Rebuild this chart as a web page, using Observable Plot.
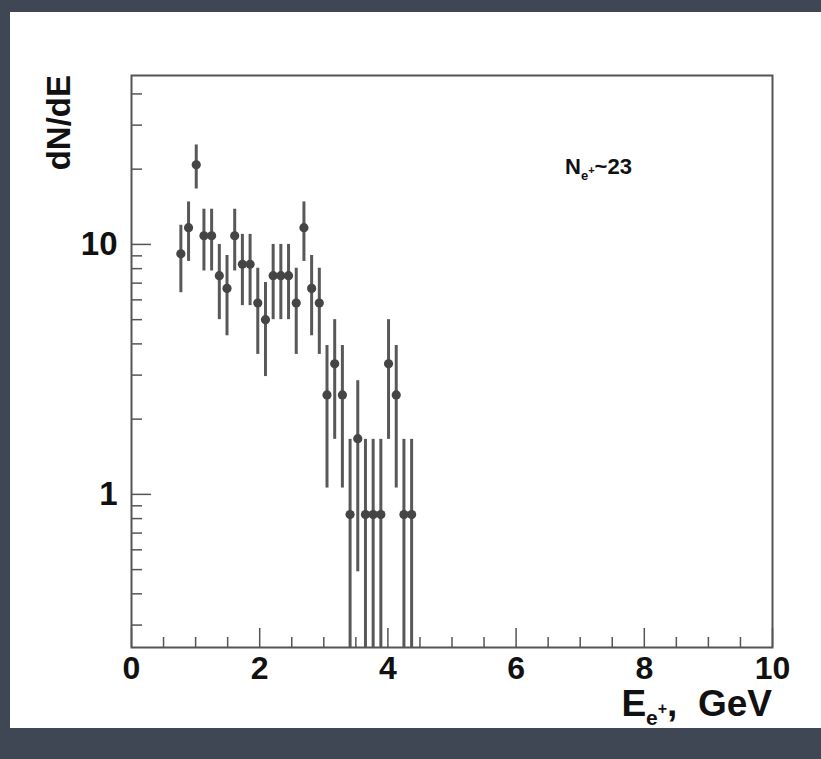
<!DOCTYPE html>
<html><head><meta charset="utf-8">
<script src="https://cdn.jsdelivr.net/npm/d3@7"></script>
<script src="https://cdn.jsdelivr.net/npm/@observablehq/plot@0.6"></script>
<style>
html,body{margin:0;padding:0;}
body{width:821px;height:759px;background:#3f4755;position:relative;overflow:hidden;font-family:"Liberation Sans",Arial,sans-serif;}
#panel{position:absolute;left:10px;top:12px;width:811px;height:716px;background:#fff;}
#chart{position:absolute;left:0;top:0;}
</style></head><body><div id="panel"></div><div id="chart"></div>
<script>
// Positron energy bins (GeV, bin centres)
const energy = [0.77, 0.89, 1.01, 1.13, 1.25, 1.37, 1.49, 1.61, 1.73, 1.85, 1.97, 2.09, 2.21, 2.33, 2.45, 2.57,
                2.69, 2.81, 2.93, 3.05, 3.17, 3.29, 3.41, 3.53, 3.65, 3.77, 3.89, 4.01, 4.13, 4.25, 4.37];
// dN/dE values
const dNdE = [9.17, 11.67, 20.83, 10.83, 10.83, 7.50, 6.67, 10.83, 8.33, 8.33, 5.83, 5.00, 7.50, 7.50, 7.50, 5.83,
              11.67, 6.67, 5.83, 2.50, 3.33, 2.50, 0.83, 1.67, 0.83, 0.83, 0.83, 3.33, 2.50, 0.83, 0.83];
// symmetric errors
const errors = [2.76, 3.12, 4.17, 3.00, 3.00, 2.50, 2.36, 3.00, 2.64, 2.64, 2.20, 2.04, 2.50, 2.50, 2.50, 2.20,
                3.12, 2.36, 2.20, 1.44, 1.67, 1.44, 0.83, 1.18, 0.83, 0.83, 0.83, 1.67, 1.44, 0.83, 0.83];
const yMajorTicks = [1, 10];
const yMinorTicks = [0.3, 0.4, 0.5, 0.6, 0.7, 0.8, 0.9, 2, 3, 4, 5, 6, 7, 8, 9, 20, 30, 40];
const xMajorTicks = [0, 2, 4, 6, 8, 10];
const xMinorTicks = [0.5, 1, 1.5, 2.5, 3, 3.5, 4.5, 5, 5.5, 6.5, 7, 7.5, 8.5, 9, 9.5];
const yRange = [0.244, 47.4];
const xRange = [0, 10];
const annotationValue = "~23";

const W = 821, H = 759, mL = 131, mR = 49, mT = 75, mB = 112;
const innerW = W - mL - mR, innerH = H - mT - mB;
const rows = energy.map((e, i) => ({e, v: dNdE[i], err: errors[i]}));
const axisColor = "#555";
const font = "Liberation Sans, Arial, sans-serif";

const plot = Plot.plot({
  width: W, height: H,
  marginLeft: mL, marginRight: mR, marginTop: mT, marginBottom: mB,
  style: {background: "transparent", fontFamily: font, overflow: "visible"},
  x: {domain: xRange, axis: null},
  y: {type: "log", domain: yRange, axis: null},
  marks: [
    Plot.ruleX(rows, {x: "e", y1: d => Math.max(d.v - d.err, yRange[0]), y2: d => d.v + d.err, stroke: "#585858", strokeWidth: 3}),
    Plot.dot(rows, {x: "e", y: "v", r: 4.6, fill: "#454545", stroke: "none"}),
    Plot.ruleY(yMajorTicks, {y: d => d, insetRight: innerW - 20, stroke: axisColor, strokeWidth: 1.5}),
    Plot.ruleY(yMinorTicks, {y: d => d, insetRight: innerW - 11, stroke: axisColor, strokeWidth: 1.5}),
    Plot.ruleX(xMajorTicks, {x: d => d, insetTop: innerH - 19, stroke: axisColor, strokeWidth: 1.5}),
    Plot.ruleX(xMinorTicks, {x: d => d, insetTop: innerH - 10, stroke: axisColor, strokeWidth: 1.5}),
    Plot.frame({stroke: axisColor, strokeWidth: 2}),
    Plot.text(yMajorTicks, {y: d => d, text: d => String(d), frameAnchor: "left", dx: -14, textAnchor: "end",
      fontSize: 33, fontWeight: "bold", fill: "#111"}),
    Plot.text(xMajorTicks, {x: d => d, text: d => String(d), frameAnchor: "bottom", dy: 21, lineAnchor: "middle",
      fontSize: 32, fontWeight: "bold", fill: "#111"})
  ]
});
document.getElementById("chart").appendChild(plot);

const svg = d3.select(plot);
// y-axis title
svg.append("text")
  .attr("transform", `translate(${mL - 73},${mT}) rotate(-90)`)
  .attr("text-anchor", "end")
  .attr("dy", "0.36em")
  .attr("font-family", font).attr("font-weight", "bold").attr("font-size", 33).attr("fill", "#111")
  .text("dN/dE");
// x-axis title
const xt = svg.append("text")
  .attr("x", W - mR).attr("y", 716)
  .attr("text-anchor", "end")
  .attr("font-family", font).attr("font-weight", "bold").attr("font-size", 37).attr("fill", "#111");
xt.append("tspan").text("E");
xt.append("tspan").attr("font-size", 21).attr("dy", 9).text("e");
xt.append("tspan").attr("font-size", 16).attr("dy", -11).text("+");
xt.append("tspan").attr("dy", 2).text(",  GeV");
// annotation
const an = svg.append("text")
  .attr("x", 565).attr("y", 174)
  .attr("text-anchor", "start")
  .attr("font-family", font).attr("font-weight", "bold").attr("font-size", 22).attr("fill", "#111");
an.append("tspan").text("N");
an.append("tspan").attr("font-size", 13).attr("dy", 6).text("e");
an.append("tspan").attr("font-size", 11).attr("dy", -6).text("+");
an.append("tspan").attr("dy", 0).text(annotationValue);
</script>
</body></html>
